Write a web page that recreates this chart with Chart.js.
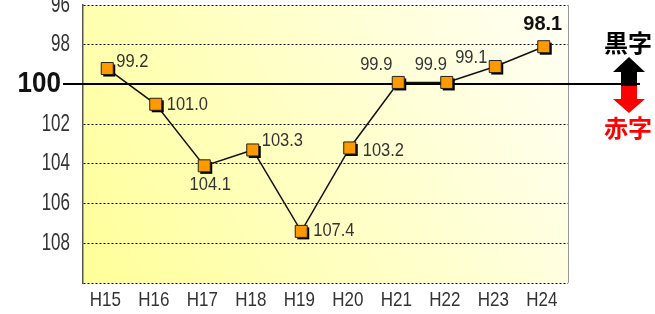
<!DOCTYPE html>
<html>
<head>
<meta charset="utf-8">
<script src="https://cdn.jsdelivr.net/npm/chart.js@4.4.1/dist/chart.umd.min.js"></script>
<style>
  html, body { margin: 0; padding: 0; background: #fff; }
  #wrap { width: 655px; height: 314px; }
</style>
</head>
<body>
<div id="wrap"><canvas id="chartBalance" width="655" height="314"></canvas></div>
<script>
// years (Heisei) and ratio values
let labels = ['H15', 'H16', 'H17', 'H18', 'H19', 'H20', 'H21', 'H22', 'H23', 'H24']
let values = [99.2, 101.0, 104.1, 103.3, 107.4, 103.2, 99.9, 99.9, 99.1, 98.1]
let yTicks = [96, 98, 100, 102, 104, 106, 108, 110]

// where each value label sits relative to its marker: [align, dx, dy]
let labelPos = [
  ['left', 9, -7],
  ['left', 11, 1],
  ['center', 6, 19],
  ['left', 9, -9],
  ['left', 12, 0],
  ['left', 13, 3],
  ['center', -22, -17],
  ['center', -16, -17],
  ['center', -24, -9],
  ['center', -1, -22]
]

function stretchText(ctx, text, x, y, font, color, align, sy) {
  ctx.save()
  ctx.translate(x, y)
  ctx.scale(1, sy)
  ctx.font = font
  ctx.fillStyle = color
  ctx.textAlign = align
  ctx.textBaseline = 'middle'
  ctx.fillText(text, 0, 0)
  ctx.restore()
}

var decorPlugin = {
  id: 'decor',
  beforeDraw: function(chart) {
    let ctx = chart.ctx
    let a = chart.chartArea
    let grad = ctx.createLinearGradient(a.left, a.bottom, a.right, a.top)
    grad.addColorStop(0, '#FFFF99')
    grad.addColorStop(0.5, '#FFFFC8')
    grad.addColorStop(1, '#FFFFF6')
    ctx.save()
    ctx.fillStyle = grad
    ctx.fillRect(a.left, a.top, a.right - a.left, a.bottom - a.top)
    ctx.restore()
  },
  beforeDatasetsDraw: function(chart) {
    let ctx = chart.ctx
    let a = chart.chartArea
    let y = chart.scales.y
    let x = chart.scales.x
    ctx.save()
    // right frame
    ctx.strokeStyle = '#999'
    ctx.lineWidth = 1
    ctx.beginPath()
    ctx.moveTo(a.right + 0.5, a.top)
    ctx.lineTo(a.right + 0.5, a.bottom)
    ctx.stroke()
    // 100 reference line
    let p = Math.round(y.getPixelForValue(100))
    ctx.strokeStyle = '#000'
    ctx.lineWidth = 2
    ctx.beginPath()
    ctx.moveTo(63, p)
    ctx.lineTo(640, p)
    ctx.stroke()
    ctx.restore()

    // y tick labels
    for (let t of y.ticks) {
      let py = y.getPixelForValue(t.value)
      if (t.value == 110) continue
      if (t.value == 100) {
        stretchText(ctx, '100', 61, py, 'bold 26px "Liberation Sans", Arial', '#111', 'right', 1.1)
      } else {
        stretchText(ctx, String(t.value), 70, py, '17px "Liberation Sans", Arial', '#333', 'right', 1.4)
      }
    }
    // x tick labels
    x.ticks.forEach(function(t, i) {
      stretchText(ctx, labels[t.value], x.getPixelForTick(i) - 2, 300, '17px "Liberation Sans", Arial', '#333', 'center', 1.2)
    })
  },
  beforeDatasetDraw: function(chart, args) {
    if (args.index === 0) {
      // drop shadow under each marker
      let ctx = chart.ctx
      let s = 6
      ctx.save()
      ctx.fillStyle = '#000'
      for (let pt of args.meta.data) {
        ctx.fillRect(pt.x - s + 2, pt.y - s + 2, 2 * s, 2 * s)
      }
      ctx.restore()
    }
  },
  afterDatasetsDraw: function(chart) {
    let ctx = chart.ctx
    let meta = chart.getDatasetMeta(0)
    meta.data.forEach(function(pt, i) {
      let pos = labelPos[i]
      let txt = values[i].toFixed(1)
      if (i === values.length - 1) {
        stretchText(ctx, txt, pt.x + pos[1], pt.y + pos[2], 'bold 20px "Liberation Sans", Arial', '#111', pos[0], 1.05)
      } else {
        stretchText(ctx, txt, pt.x + pos[1], pt.y + pos[2], '16.5px "Liberation Sans", Arial', '#333', pos[0], 1.1)
      }
    })
  },
  afterDraw: function(chart) {
    let ctx = chart.ctx
    let cx = 629
    ctx.save()
    // black up arrow
    ctx.fillStyle = '#000'
    ctx.beginPath()
    ctx.moveTo(cx, 57)
    ctx.lineTo(cx + 16, 72)
    ctx.lineTo(cx + 8, 72)
    ctx.lineTo(cx + 8, 86)
    ctx.lineTo(cx - 8, 86)
    ctx.lineTo(cx - 8, 72)
    ctx.lineTo(cx - 16, 72)
    ctx.closePath()
    ctx.fill()
    // red down arrow
    ctx.fillStyle = '#FF0000'
    ctx.beginPath()
    ctx.moveTo(cx - 8, 86)
    ctx.lineTo(cx + 8, 86)
    ctx.lineTo(cx + 8, 99)
    ctx.lineTo(cx + 16, 99)
    ctx.lineTo(cx, 113)
    ctx.lineTo(cx - 16, 99)
    ctx.lineTo(cx - 8, 99)
    ctx.closePath()
    ctx.fill()
    ctx.restore()
    stretchText(ctx, '黒字', 628, 43, 'bold 24px "Noto Sans CJK JP"', '#000', 'center', 1)
    stretchText(ctx, '赤字', 628, 128, 'bold 24px "Noto Sans CJK JP"', '#FF0000', 'center', 1)
  }
}

var ctx = document.getElementById('chartBalance').getContext('2d')
var myChart = new Chart(ctx, {
  type: 'line',
  data: {
    labels: labels,
    datasets: [{
      // markers (index 0 is drawn on top)
      data: values,
      showLine: false,
      pointStyle: 'rect',
      pointRadius: 8.5,
      pointHoverRadius: 8.5,
      pointBackgroundColor: '#FF9900',
      pointBorderColor: '#222',
      pointBorderWidth: 1
    }, {
      // connecting line
      data: values,
      borderColor: '#111',
      borderWidth: 1.5,
      pointRadius: 0,
      fill: false,
      tension: 0
    }]
  },
  options: {
    responsive: false,
    animation: false,
    events: [],
    layout: { autoPadding: false, padding: { top: 5, right: 87, left: 0, bottom: 0 } },
    plugins: {
      legend: { display: false },
      tooltip: { enabled: false }
    },
    scales: {
      x: {
        offset: true,
        grid: { display: false },
        border: { display: false },
        ticks: {
          color: 'rgba(0,0,0,0)',
          font: { size: 17 },
          maxRotation: 0
        },
        afterFit: function(scale) {
          scale.height = 31
          scale.paddingLeft = 0
          scale.paddingRight = 0
        }
      },
      y: {
        reverse: true,
        min: 96,
        max: 110,
        afterBuildTicks: function(scale) {
          scale.ticks = yTicks.map(function(v) { return { value: v } })
        },
        ticks: {
          color: 'rgba(0,0,0,0)',
          font: { size: 17 }
        },
        grid: {
          drawTicks: false,
          color: function(c) {
            return c.tick && c.tick.value === 100 ? 'rgba(0,0,0,0)' : '#000'
          },
          lineWidth: 1
        },
        border: { display: true, color: '#555', width: 1.5, dash: [2, 2] },
        afterFit: function(scale) {
          scale.width = 83
          scale.paddingTop = 0
          scale.paddingBottom = 0
        }
      }
    }
  },
  plugins: [decorPlugin]
});
</script>
</body>
</html>
